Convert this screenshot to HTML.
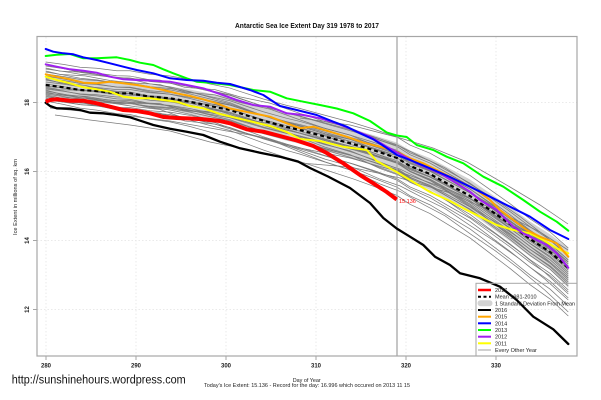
<!DOCTYPE html>
<html><head><meta charset="utf-8"><style>
html,body{margin:0;padding:0;background:#fff;}
svg{display:block;}
text{font-family:"Liberation Sans",Arial,sans-serif;}
</style></head><body>
<svg width="601" height="400" viewBox="0 0 601 400" xmlns="http://www.w3.org/2000/svg">
<rect width="601" height="400" fill="#fff"/>
<defs>
<path id="M" fill="none" d="M45.7,85 L63.3,87.3 L80,90 L96.7,91 L116.7,93.3 L130,93.3 L150,96.7 L170,98.3 L190,101.7 L210,106 L230,110 L240,113.3 L263.3,120.7 L286.7,127 L300,130 L330,138 L353,144 L373,150 L397,158 L410,166 L430,174 L450,185 L470,196 L490,210 L510,224 L530,239 L550,252 L568.3,268"/>
<path id="V" fill="none" d="M45.7,85 L60,88 L85,89 L110,93 L135,95 L160,96 L185,103 L215,105 L240,112 L270,118 L300,128 L325,136 L350,142 L380,154 L400,160 L425,172 L445,181 L470,197 L495,212 L520,229 L545,248 L568.3,268"/>
</defs>
<!-- grid -->
<g stroke="#e4e4e4" stroke-width="0.8" stroke-dasharray="1.5,2">
<line x1="46" y1="37" x2="46" y2="356"/><line x1="136" y1="37" x2="136" y2="356"/><line x1="226" y1="37" x2="226" y2="356"/><line x1="316" y1="37" x2="316" y2="356"/><line x1="406" y1="37" x2="406" y2="356"/><line x1="496" y1="37" x2="496" y2="356"/>
<line x1="37" y1="102.5" x2="577" y2="102.5"/><line x1="37" y1="171.5" x2="577" y2="171.5"/><line x1="37" y1="240.5" x2="577" y2="240.5"/><line x1="37" y1="309.5" x2="577" y2="309.5"/>
</g>
<!-- SD band -->
<polygon fill="#d3d3d3" points="45.7,75 63.3,77 80,79.5 96.7,80.2 116.7,82.2 130,82 150,85.1 170,86.4 190,89.5 210,93.5 230,97.2 240,100.3 263.3,107.4 286.7,113.3 300,116.1 330,123.6 353,129.3 373,135 397,142.6 410,150.4 430,158.1 450,168.8 470,179.5 490,193.2 510,206.9 530,221.6 550,234.3 568.3,248 568.3,288 550,269.7 530,256.4 510,241.1 490,226.8 470,212.5 450,201.2 430,189.9 410,181.6 397,173.4 373,165 353,158.7 330,152.4 300,143.9 286.7,140.7 263.3,134 240,126.3 230,122.8 210,118.5 190,113.9 170,110.2 150,108.3 130,104.6 116.7,104.4 96.7,101.8 80,100.5 63.3,97.6 45.7,95"/>
<!-- gray every-other-year lines -->
<g stroke="#7a7a7a" stroke-width="0.75" fill="none">
<use href="#M" transform="matrix(1,0.00575,0,1,0,-23.26)"/>
<use href="#M" transform="matrix(1,0.02107,0,1,0,-19.97)"/>
<use href="#M" transform="matrix(1,0.00766,0,1,0,-16.35)"/>
<use href="#M" transform="matrix(1,0.0364,0,1,0,-14.67)"/>
<use href="#M" transform="matrix(1,0.00958,0,1,0,-11.44)"/>
<use href="#M" transform="matrix(1,0.04023,0,1,0,-10.85)"/>
<use href="#M" transform="matrix(1,0.00958,0,1,0,-7.44)"/>
<use href="#M" transform="matrix(1,0.04406,0,1,0,-7.03)"/>
<use href="#M" transform="matrix(1,-0.00958,0,1,0,-2.56)"/>
<use href="#M" transform="matrix(1,0.01724,0,1,0,-1.79)"/>
<use href="#M" transform="matrix(1,-0.00958,0,1,0,1.44)"/>
<use href="#M" transform="matrix(1,0.0364,0,1,0,1.33)"/>
<use href="#M" transform="matrix(1,-0.00383,0,1,0,4.18)"/>
<use href="#M" transform="matrix(1,0.04598,0,1,0,3.88)"/>
<use href="#M" transform="matrix(1,-0.00766,0,1,0,8.35)"/>
<use href="#M" transform="matrix(1,0.00958,0,1,0,8.56)"/>
<use href="#M" transform="matrix(1,0.05172,0,1,0,8.62)"/>
<use href="#M" transform="matrix(1,-0.02299,0,1,0,13.06)"/>
<use href="#M" transform="matrix(1,0.01916,0,1,0,13.12)"/>
<use href="#M" transform="matrix(1,-0.00958,0,1,0,15.44)"/>
<use href="#M" transform="matrix(1,0.06897,0,1,0,-23.17)"/>
<use href="#M" transform="matrix(1,0.0613,0,1,0,13.18)"/>
<use href="#V" transform="matrix(1,0.02299,0,1,0,-15.06)"/>
<use href="#V" transform="matrix(1,0.0613,0,1,0,-8.82)"/>
<use href="#V" transform="matrix(1,-0.01533,0,1,0,2.70)"/>
<use href="#V" transform="matrix(1,0.00575,0,1,0,6.74)"/>
<use href="#V" transform="matrix(1,-0.01916,0,1,0,10.88)"/>
<use href="#V" transform="matrix(1,0.0364,0,1,0,11.33)"/>
<use href="#V" transform="matrix(1,0.00958,0,1,0,-17.44)"/>
<use href="#V" transform="matrix(1,0.07471,0,1,0,1.56)"/>
<polyline points="55,115 90,120 130,125 170,131 210,142 260,152 300,163 350,167 400,178 450,193 500,215 540,240 568,262"/>
<polyline points="50,108 90,112 130,116 170,121 210,128 250,135 300,148 350,158 400,172 450,190 500,212 540,232 568,250"/>
<polyline points="300,118 350,125 400,138 433,148 467,162 510,187 540,205 568,224"/>
</g>
<!-- day 319 line -->
<line x1="397" y1="37" x2="397" y2="356" stroke="#a8a8a8" stroke-width="1.3"/>
<!-- mean -->
<use href="#M" stroke="#000" stroke-width="2.2" stroke-dasharray="4,3"/>
<g fill="none" stroke-linejoin="round" stroke-linecap="round">
<!-- 2011 yellow -->
<polyline stroke="#ffff00" stroke-width="2" points="45.7,76.7 56.7,80 70,83.3 83.3,87.3 96.7,89.3 110,91.7 123.3,96.7 136.7,98.3 150,98.3 163.3,100 176.7,101.7 190,106 203.3,108.3 220,114 236.7,118 253.3,122 270,126 286.7,132 300,139 320,141 343,146.7 366.7,150 376.7,161 396.7,172 410,180 430,192 450,201 463.3,208.3 480,216.7 496.7,225 513.3,230 530,233.3 543.3,240 556.7,248.3 568.3,253.3"/>
<!-- 2015 orange -->
<polyline stroke="#ffa500" stroke-width="2" points="45.7,74.3 56.7,76.7 70,79.3 83.3,82.7 96.7,83.3 110,81.7 123.3,83.3 136.7,85 150,87.3 163.3,90 176.7,93.3 190,96 203.3,99.3 216.7,103.3 230,108.5 253.3,113.3 270,116.7 286.7,123.3 300,128.3 313.3,126.7 330,131.7 346.7,136.7 363.3,142.7 380,146.7 396.7,151.7 410,158.3 423.3,163.3 436.7,170 456.7,180 476.7,190 490,200 500,210 513.3,220 526.7,230 540,236.7 556.7,243.3 568.3,256.7"/>
<!-- 2012 purple -->
<polyline stroke="#a020f0" stroke-width="2" points="45.7,64.3 56.7,66.7 70,69.3 83.3,70.7 96.7,72.7 110,76.7 123.3,79.3 136.7,80 153.3,80.7 170,81.7 186.7,85 203.3,88.3 220,94 236.7,100 253.3,105 270,106.7 286.7,113.3 303.3,115 320,118.3 336.7,123.3 353.3,130 370,136.7 386.7,146.7 400,154 416.7,163.3 440,173.3 456.7,183.3 470,191.7 480,200 496.7,210 503.3,216.7 513.3,226.7 523.3,233.3 533.3,238.3 546.7,245 556.7,253.3 568.3,267.7"/>
<!-- 2013 green -->
<polyline stroke="#00ff00" stroke-width="2" points="45.7,56 56.7,54.7 70,54 83.3,58.3 96.7,58.3 116.7,57.3 130,60 140,62.7 153.3,65 163.3,69.3 173.3,73.3 186.7,78.3 196.7,81.7 210,82.7 230,85 253.3,90 270,91.7 286.7,98.3 303.3,101.7 320,105 336.7,108.5 353.3,113.3 370,121 386.7,132.5 396.7,135.5 406.7,137 416.7,145 433.3,150 446.7,156.7 463.3,163.3 483.3,176.7 503.3,186.7 523.3,200 540,211.7 556.7,221.7 568.3,230.7"/>
<!-- 2014 blue -->
<polyline stroke="#0000ff" stroke-width="2" points="45.7,49 53.3,51.7 63.3,53.3 73.3,54.3 83.3,57.3 96.7,60 110,63.3 123.3,66.7 136.7,70 153.3,73.3 170,78.3 186.7,80 203.3,80.7 216.7,82.7 230,84 250,90 263.3,95 280,106 296.7,110 316.7,115 333.3,121.7 346.7,126.7 360,133.3 373.3,139.3 386.7,148 397,155 410,160 430,168.3 450,177 470,186.7 490,196.7 510,206.7 530,216.7 550,230 568.3,239"/>
<!-- 2016 black -->
<polyline stroke="#000" stroke-width="2.3" points="45.7,102.7 50,106 56.7,108.3 70,108.7 80,110 90,112.7 103.3,113.3 116.7,115 130,117.3 143.3,121.7 153.3,125 170,128.7 186.7,131.7 203.3,135 220,141.7 240,148.3 260,152.7 280,156.7 298,161.5 310,168 328,176.5 350,188 370,203 383.3,218 396.7,228.5 410,236.7 423.3,245 435,256.7 450,265 460,273.3 480,278.3 500,286.7 516.7,300 533.3,316.7 553.3,329.3 568.3,344"/>
<!-- 2017 red -->
<polyline stroke="#ff0000" stroke-width="4" stroke-linecap="butt" points="45.7,101.7 50,100 56.7,99.3 70,100.7 83.3,100.7 96.7,103.3 110,106.7 123.3,110 136.7,111 150,113.3 163.3,117 176.7,118 190,118.5 203.3,119.3 220,121 230,123.3 246.7,129.3 263.3,131.7 280,136 296.7,140.5 313.3,146 326.7,153 343.3,163.3 360,175 373.3,183.3 386.7,192 396.7,199.5"/>
</g>
<text x="399" y="203" font-size="5.5" fill="#ff0000">15.136</text>
<!-- plot box -->
<rect x="37" y="36.5" width="540" height="319.5" fill="none" stroke="#a6a6a6" stroke-width="1.2"/>
<!-- ticks -->
<g stroke="#a6a6a6" stroke-width="1">
<line x1="46" y1="356" x2="46" y2="360"/><line x1="136" y1="356" x2="136" y2="360"/><line x1="226" y1="356" x2="226" y2="360"/><line x1="316" y1="356" x2="316" y2="360"/><line x1="406" y1="356" x2="406" y2="360"/><line x1="496" y1="356" x2="496" y2="360"/>
<line x1="33" y1="102.5" x2="37" y2="102.5"/><line x1="33" y1="171.5" x2="37" y2="171.5"/><line x1="33" y1="240.5" x2="37" y2="240.5"/><line x1="33" y1="309.5" x2="37" y2="309.5"/>
</g>
<g font-size="6" fill="#222" text-anchor="middle" font-weight="bold">
<text x="46" y="367.5">280</text><text x="136" y="367.5">290</text><text x="226" y="367.5">300</text><text x="316" y="367.5">310</text><text x="406" y="367.5">320</text><text x="496" y="367.5">330</text>
<text x="29" y="102.5" transform="rotate(-90 29 102.5)">18</text>
<text x="29" y="171.5" transform="rotate(-90 29 171.5)">16</text>
<text x="29" y="240.5" transform="rotate(-90 29 240.5)">14</text>
<text x="29" y="309.5" transform="rotate(-90 29 309.5)">12</text>
</g>
<text x="17" y="197" font-size="5.5" fill="#222" text-anchor="middle" transform="rotate(-90 17 197)" textLength="76" lengthAdjust="spacingAndGlyphs">Ice Extent in millions of sq. km</text>
<!-- title -->
<text x="307" y="28" font-size="7" font-weight="bold" fill="#111" text-anchor="middle" textLength="144" lengthAdjust="spacingAndGlyphs">Antarctic Sea Ice Extent Day 319 1978 to 2017</text>
<!-- bottom texts -->
<text x="306.7" y="382" font-size="5.5" fill="#222" text-anchor="middle" textLength="28" lengthAdjust="spacingAndGlyphs">Day of Year</text>
<text x="307" y="386.8" font-size="5.5" fill="#222" text-anchor="middle" textLength="206" lengthAdjust="spacingAndGlyphs">Today's Ice Extent: 15.136  - Record for the day: 16.996 which occured on 2013 11 15</text>
<text x="11.7" y="383.3" font-size="11.5" fill="#111" textLength="174" lengthAdjust="spacingAndGlyphs">http://sunshinehours.wordpress.com</text>
<!-- legend -->
<rect x="476" y="283.3" width="101" height="72.7" fill="none" stroke="#a6a6a6" stroke-width="1"/>
<g stroke-width="2">
<line x1="478" y1="290" x2="491" y2="290" stroke="#ff0000" stroke-width="2.5"/>
<line x1="478" y1="296.7" x2="491" y2="296.7" stroke="#000" stroke-dasharray="3,2.5"/>
<rect x="477.5" y="300.3" width="15" height="6" rx="3" fill="#d3d3d3" stroke="none"/>
<line x1="478" y1="310" x2="491" y2="310" stroke="#000"/>
<line x1="478" y1="316.7" x2="491" y2="316.7" stroke="#ffa500"/>
<line x1="478" y1="323.3" x2="491" y2="323.3" stroke="#0000ff"/>
<line x1="478" y1="330" x2="491" y2="330" stroke="#00ff00"/>
<line x1="478" y1="336.7" x2="491" y2="336.7" stroke="#a020f0"/>
<line x1="478" y1="343.3" x2="491" y2="343.3" stroke="#ffff00"/>
<line x1="478" y1="350" x2="491" y2="350" stroke="#888" stroke-width="0.8"/>
</g>
<g font-size="5.5" fill="#222">
<text x="495" y="292">2017</text>
<text x="495" y="298.7">Mean 1981-2010</text>
<text x="495" y="305.3" textLength="80" lengthAdjust="spacingAndGlyphs">1 Standard Deviation From Mean</text>
<text x="495" y="312">2016</text>
<text x="495" y="318.7">2015</text>
<text x="495" y="325.3">2014</text>
<text x="495" y="332">2013</text>
<text x="495" y="338.7">2012</text>
<text x="495" y="345.3">2011</text>
<text x="495" y="352">Every Other Year</text>
</g>
</svg>
</body></html>
